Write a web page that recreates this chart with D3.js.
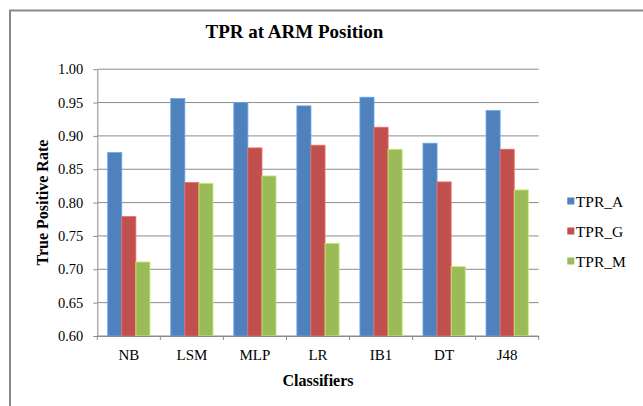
<html lang="en">

<head>
  <meta charset="UTF-8">
  <title>TPR at ARM Position</title>
  <script src="https://d3js.org/d3.v7.min.js"></script>
  <style>
    body { margin: 0; background: white; }
    svg text { font-family: 'Liberation Serif', 'DejaVu Serif', serif !important; fill: #000; }
  </style>
</head>

<body>
  <svg class="tpr" width="643" height="406"></svg>
  <script>
    const classifiers = ["NB", "LSM", "MLP", "LR", "IB1", "DT", "J48"];
    const seriesNames = ["TPR_A", "TPR_G", "TPR_M"];
    const tprA = [0.875, 0.956, 0.950, 0.945, 0.958, 0.889, 0.938];
    const tprG = [0.779, 0.830, 0.882, 0.886, 0.913, 0.831, 0.880];
    const tprM = [0.711, 0.829, 0.840, 0.739, 0.880, 0.704, 0.819];
    const yTicks = [0.60, 0.65, 0.70, 0.75, 0.80, 0.85, 0.90, 0.95, 1.00];
    const colors = ["#4F81BD", "#C0504D", "#9BBB59"];

    const series = [tprA, tprG, tprM];
    const svg = d3.select('svg.tpr');
    const serif = "'Liberation Serif', 'DejaVu Serif', serif";

    // outer frame
    svg.append('rect')
      .attr('x', 10).attr('y', 10.5)
      .attr('width', 700).attr('height', 500)
      .attr('fill', 'white')
      .attr('stroke', '#8a8a8a')
      .attr('stroke-width', 2);

    const plotL = 97.3, plotR = 538.7, plotT = 69.2, plotB = 336;

    let y = d3.scaleLinear().domain([0.6, 1.0]).range([plotB, plotT]);
    let x0 = d3.scaleBand().domain(classifiers).range([plotL, plotR]);
    const pad = 10.4;
    let x1 = d3.scaleBand().domain(seriesNames).range([pad, x0.bandwidth() - pad]);

    // gridlines
    svg.append('g')
      .selectAll('line')
      .data(yTicks)
      .join('line')
      .attr('x1', plotL).attr('x2', plotR)
      .attr('y1', d => y(d)).attr('y2', d => y(d))
      .attr('stroke', '#8c8c8c')
      .attr('stroke-width', 1);

    // bars
    let groups = svg.append('g')
      .selectAll('g')
      .data(classifiers)
      .join('g')
      .attr('transform', d => `translate(${x0(d)},0)`);

    groups.selectAll('rect')
      .data((c, i) => seriesNames.map((s, j) => ({ s: s, v: series[j][i], c: colors[j] })))
      .join('rect')
      .attr('x', d => x1(d.s))
      .attr('y', d => y(d.v))
      .attr('width', x1.bandwidth())
      .attr('height', d => plotB - y(d.v))
      .attr('fill', d => d.c)
      .attr('stroke', d => d3.color(d.c).brighter(0.7))
      .attr('stroke-width', 0.8);

    // y axis
    let yAxis = d3.axisLeft(y).tickValues(yTicks).tickFormat(d3.format('.2f')).tickSizeInner(4).tickSizeOuter(0).tickPadding(10);
    let ya = svg.append('g').attr('transform', `translate(${plotL},0)`).call(yAxis)
      .attr('font-family', serif).attr('font-size', 14.5);
    ya.selectAll('line, path').attr('stroke', '#8c8c8c');
    ya.selectAll('text').attr('fill', '#000');

    // x axis
    let xAxis = d3.axisBottom(x0).tickSize(0).tickPadding(13);
    let xa = svg.append('g').attr('transform', `translate(0,${plotB})`).call(xAxis)
      .attr('font-family', serif).attr('font-size', 15);
    xa.select('path').attr('stroke', '#8c8c8c');
    xa.selectAll('text').attr('fill', '#000');
    xa.selectAll('line.sep')
      .data(d3.range(classifiers.length + 1))
      .join('line')
      .attr('class', 'sep')
      .attr('x1', i => plotL + i * x0.step()).attr('x2', i => plotL + i * x0.step())
      .attr('y1', 0).attr('y2', 4)
      .attr('stroke', '#8c8c8c');

    // title
    svg.append('text')
      .attr('x', 294.5).attr('y', 37.5)
      .attr('text-anchor', 'middle')
      .attr('font-family', serif)
      .style('font-size', '19px').style('font-weight', 'bold')
      .text('TPR at ARM Position');

    svg.append('text')
      .attr('x', (plotL + plotR) / 2).attr('y', 386)
      .attr('text-anchor', 'middle')
      .attr('font-family', serif)
      .style('font-size', '16px').style('font-weight', 'bold')
      .text('Classifiers');

    svg.append('text')
      .attr('transform', `translate(48,${(plotT + plotB) / 2}) rotate(-90)`)
      .attr('text-anchor', 'middle')
      .attr('font-family', serif)
      .style('font-size', '16px').style('font-weight', 'bold')
      .text('True Positive Rate');

    // legend
    let legend = svg.append('g')
      .selectAll('g')
      .data(seriesNames)
      .join('g')
      .attr('transform', (d, i) => `translate(567.3,${201 + i * 30})`);
    legend.append('rect')
      .attr('x', 0).attr('y', -3.5)
      .attr('width', 7).attr('height', 7)
      .attr('fill', (d, i) => colors[i]);
    legend.append('text')
      .attr('x', 8.5).attr('y', 5.5)
      .attr('font-family', serif)
      .style('font-size', '15.5px')
      .text(d => d);
  </script>
</body>

</html>
